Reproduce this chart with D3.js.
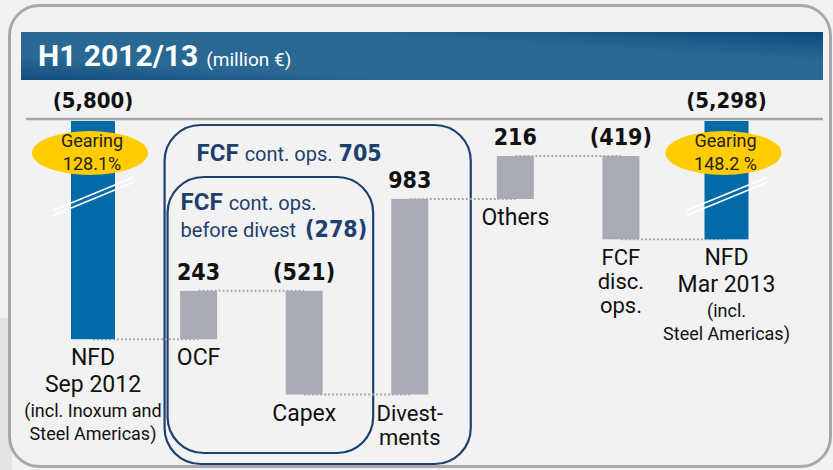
<!DOCTYPE html>
<html>
<head>
<meta charset="utf-8">
<script src="https://cdn.jsdelivr.net/npm/d3@7"></script>
<style>
  body { margin: 0; background: #f2f2f2; }
  svg { display: block; }
</style>
</head>
<body>
<svg id="chart" width="833" height="470"></svg>
<script>
const width = 833;
const height = 470;

// data (million €)
const categories = ["NFD Sep 2012", "OCF", "Capex", "Divestments", "Others", "FCF disc. ops.", "NFD Mar 2013"];
const flows = [5800, 243, -521, 983, 216, -419, 5298]; // first/last = net financial debt, middle = cash flows
const valueLabels = ["(5,800)", "243", "(521)", "983", "216", "(419)", "(5,298)"];
const catLabels = [
    ["NFD", "Sep 2012", "(incl. Inoxum and", "Steel Americas)"],
    ["OCF"],
    ["Capex"],
    ["Divest-", "ments"],
    ["Others"],
    ["FCF", "disc.", "ops."],
    ["NFD", "Mar 2013", "(incl.", "Steel Americas)"]
];
const gearingCats = ["NFD Sep 2012", "NFD Mar 2013"];
const gearingLabels = [["Gearing", "128.1%"], ["Gearing", "148.2 %"]];
const subtotalValues = ["705", "(278)"];

const numFont = "'DejaVu Sans Condensed', 'DejaVu Sans', sans-serif";
const txtFont = "Roboto, 'Liberation Sans', sans-serif";
const navy = "#1d416f";
const grayBar = "#a8aab5";
const blueBar = "#006ba8";

const svg = d3.select("#chart");

// running debt level after each step
const levels = [];
let debt = flows[0];
flows.forEach((v, i) => {
    if (i === 0 || i === flows.length - 1) {
        levels.push({ start: null, end: v });
    } else {
        const s = debt;
        debt = debt - v;
        levels.push({ start: s, end: debt });
    }
});

const x = d3.scalePoint()
    .domain(categories)
    .range([93, 726.5]);

// debt -> vertical position (more debt = lower)
const y = d3.scaleLinear()
    .domain([4879, 6078])
    .range([156, 394.5]);

const barTop = 121;   // broken NFD bars start right under the rule

// background patch left of the frame
svg.append("rect")
    .attr("x", 0).attr("y", 318).attr("width", 12).attr("height", 152)
    .attr("fill", "#e3e3e3");

// outer frame
svg.append("rect")
    .attr("x", 9.5).attr("y", 5.5).attr("width", 821).attr("height", 461)
    .attr("rx", 30)
    .attr("fill", "#f2f2f2")
    .attr("stroke", "#a9a9a9")
    .attr("stroke-width", 3);

// header
const defs = svg.append("defs");
const grad = defs.append("linearGradient")
    .attr("id", "hdr")
    .attr("x1", "0%").attr("y1", "100%").attr("x2", "100%").attr("y2", "0%");
grad.append("stop").attr("offset", "0%").attr("stop-color", "#0f4e7f");
grad.append("stop").attr("offset", "25%").attr("stop-color", "#2a6994");
grad.append("stop").attr("offset", "70%").attr("stop-color", "#296893");
grad.append("stop").attr("offset", "100%").attr("stop-color", "#0c497a");

svg.append("rect")
    .attr("x", 21).attr("y", 32).attr("width", 802).attr("height", 48)
    .attr("fill", "url(#hdr)");

const title = svg.append("text")
    .attr("x", 38).attr("y", 66)
    .attr("fill", "white")
    .attr("font-family", txtFont);
title.append("tspan").attr("font-size", 30).attr("font-weight", "bold").text("H1 2012/13");
title.append("tspan").attr("font-size", 19).attr("dx", 8).text("(million €)");

// rule under the totals
svg.append("line")
    .attr("x1", 26).attr("x2", 823)
    .attr("y1", 119).attr("y2", 119)
    .attr("stroke", "#a6a6a6")
    .attr("stroke-width", 2.5);

// subtotal boxes
const boxes = [
    { from: "OCF", to: "Divestments", top: 125, bottom: 464, dl: -34, dr: 61 },
    { from: "OCF", to: "Capex", top: 177, bottom: 453, dl: -31, dr: 69 }
];
svg.append("g")
    .selectAll("rect")
    .data(boxes)
    .enter()
    .append("rect")
    .attr("x", d => x(d.from) + d.dl)
    .attr("y", d => d.top)
    .attr("width", d => x(d.to) + d.dr - x(d.from) - d.dl)
    .attr("height", d => d.bottom - d.top)
    .attr("rx", 36)
    .attr("fill", "none")
    .attr("stroke", navy)
    .attr("stroke-width", 2.2);

// box captions
const cap1 = svg.append("text")
    .attr("x", x("OCF") - 2).attr("y", 161)
    .attr("fill", navy).attr("font-family", txtFont);
cap1.append("tspan").attr("font-size", 24).attr("font-weight", "bold").text("FCF");
cap1.append("tspan").attr("font-size", 20).attr("dx", 6).text("cont. ops.");
cap1.append("tspan").attr("font-size", 23).attr("font-weight", "bold").attr("font-family", numFont).attr("dx", 6).text(subtotalValues[0]);

const cap2 = svg.append("text")
    .attr("x", x("OCF") - 18).attr("y", 210)
    .attr("fill", navy).attr("font-family", txtFont);
cap2.append("tspan").attr("font-size", 24).attr("font-weight", "bold").text("FCF");
cap2.append("tspan").attr("font-size", 20).attr("dx", 6).text("cont. ops.");
const cap3 = svg.append("text")
    .attr("x", x("OCF") - 18).attr("y", 237)
    .attr("fill", navy).attr("font-family", txtFont);
cap3.append("tspan").attr("font-size", 20).text("before divest");
cap3.append("tspan").attr("font-size", 23).attr("font-weight", "bold").attr("font-family", numFont).attr("dx", 9).text(subtotalValues[1]);

// dotted connectors between bars
const links = d3.range(categories.length - 1).map(i => ({ a: categories[i], b: categories[i + 1], lvl: levels[i].end }));
svg.append("g")
    .selectAll("line")
    .data(links)
    .enter()
    .append("line")
    .attr("x1", d => x(d.a))
    .attr("x2", d => x(d.b))
    .attr("y1", d => y(d.lvl))
    .attr("y2", d => y(d.lvl))
    .attr("stroke", "#a9a9a9")
    .attr("stroke-width", 2)
    .attr("stroke-dasharray", "2,2");

// bars
const barData = categories.map((c, i) => ({ cat: c, i: i, lv: levels[i] }));
svg.append("g")
    .selectAll("rect")
    .data(barData)
    .enter()
    .append("rect")
    .attr("x", d => x(d.cat) - (d.lv.start === null ? 22 : 18.5))
    .attr("width", d => d.lv.start === null ? 44 : 37)
    .attr("y", d => d.lv.start === null ? barTop : y(Math.min(d.lv.start, d.lv.end)))
    .attr("height", d => d.lv.start === null ? y(d.lv.end) - barTop : Math.abs(y(d.lv.end) - y(d.lv.start)))
    .attr("fill", d => d.lv.start === null ? blueBar : grayBar);

// break marks on the NFD bars
const breaks = svg.append("g");
gearingCats.forEach(c => {
    const cx = x(c), cy = 197;
    [-2.5, 2.5].forEach(off => {
        breaks.append("line")
            .attr("x1", cx - 40).attr("y1", cy + 16 + off)
            .attr("x2", cx + 40).attr("y2", cy - 17 + off)
            .attr("stroke", "white")
            .attr("stroke-width", 1.6);
    });
});

// gearing ellipses
gearingCats.forEach((c, k) => {
    svg.append("ellipse")
        .attr("cx", x(c) - 3).attr("cy", 153)
        .attr("rx", 58).attr("ry", 22)
        .attr("fill", "#ffcc00");
    svg.append("text")
        .attr("x", x(c) - 1).attr("y", 147)
        .attr("text-anchor", "middle")
        .attr("font-family", txtFont).attr("font-size", 18)
        .attr("fill", "#222")
        .selectAll("tspan")
        .data(gearingLabels[k])
        .enter()
        .append("tspan")
        .attr("x", x(c) - 1)
        .attr("dy", (d, j) => j === 0 ? 0 : 23)
        .text(d => d);
});

// value labels
svg.append("g")
    .selectAll("text")
    .data(barData)
    .enter()
    .append("text")
    .attr("x", d => x(d.cat))
    .attr("y", d => d.lv.start === null ? 108 : y(Math.min(d.lv.start, d.lv.end)) - 11)
    .attr("text-anchor", "middle")
    .attr("font-family", numFont)
    .attr("font-weight", "bold")
    .attr("font-size", d => d.lv.start === null ? 22 : 23)
    .attr("fill", "#111")
    .text(d => valueLabels[d.i]);

// category labels
const catG = svg.append("g")
    .selectAll("text")
    .data(barData)
    .enter()
    .append("text")
    .attr("text-anchor", "middle")
    .attr("font-family", txtFont)
    .attr("fill", "#111");

catG.selectAll("tspan")
    .data(d => catLabels[d.i].map((t, j) => ({ t: t, j: j, d: d })))
    .enter()
    .append("tspan")
    .attr("x", e => x(e.d.cat))
    .attr("y", e => {
        const bottom = y(Math.max(e.d.lv.end, e.d.lv.start === null ? 0 : e.d.lv.start));
        const isNfd = e.d.lv.start === null;
        const steps = isNfd ? [0, 27, 52, 75] : [0, 24, 48];
        return bottom + 26 + steps[e.j];
    })
    .attr("font-size", e => {
        if (e.d.lv.start === null) return e.j >= 2 ? 18 : 23;
        return catLabels[e.d.i].length > 1 ? 22 : 23;
    })
    .text(e => e.t);
</script>
</body>
</html>
